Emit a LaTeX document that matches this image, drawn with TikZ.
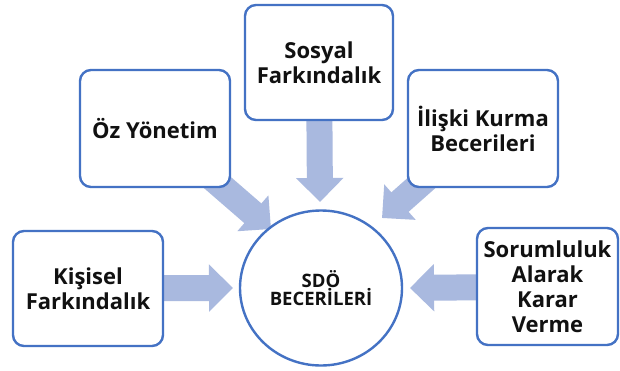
\documentclass[tikz,border=0pt]{standalone}
\usepackage{fontspec}
\setmainfont{Open Sans}
\usetikzlibrary{arrows.meta,shapes.geometric,backgrounds}
\definecolor{boxblue}{HTML}{4472C4}
\definecolor{arrowblue}{HTML}{A9B9DF}
\definecolor{txt}{HTML}{111111}
\begin{document}
\begin{tikzpicture}[x=1pt,y=-1pt,
  skillbox/.style={draw=boxblue, line width=2.4pt, rounded corners=11pt, fill=white,
    align=center, text=txt, font=\bfseries\fontsize{22}{25}\selectfont, inner sep=0pt},
  centre/.style={ellipse, draw=boxblue, line width=2.4pt, fill=white, align=center,
    text=txt, font=\bfseries\fontsize{18.5}{18}\selectfont, minimum width=162pt, minimum height=155pt, inner sep=0pt},
  bigarrow/.style={draw=arrowblue, line width=26pt, -{Triangle[length=24pt,width=46pt]}},
]
\useasboundingbox (0,0) rectangle (620,370);

\node[skillbox, minimum width=150pt, minimum height=115pt] (kis) at (88,288.5) {Kişisel\\Farkındalık};
\node[skillbox, minimum width=150pt, minimum height=117pt] (oz) at (155,128.5) {Öz Yönetim};
\node[skillbox, minimum width=148pt, minimum height=115pt] (sos) at (319,62.5) {Sosyal\\Farkındalık};
\node[skillbox, minimum width=150pt, minimum height=117pt] (ili) at (483,128.5) {İlişki Kurma\\Becerileri};
\node[skillbox, minimum width=141pt, minimum height=117pt] (sor) at (547.5,286.5) {Sorumluluk\\Alarak\\Karar\\Verme};

\node[centre] (sdo) at (321,288) {SDÖ\\BECERİLERİ};

\coordinate (tipK) at (233,288);
\coordinate (tipOz) at (271,229);
\coordinate (tipS) at (320,202);
\coordinate (tipI) at (382,218);
\coordinate (tipR) at (410,288);

\begin{pgfonlayer}{background}
\fill[white] (0,0) rectangle (620,370);
\draw[bigarrow] (kis.center) -- (tipK);
\draw[bigarrow] (oz.center) -- (tipOz);
\draw[bigarrow] (sos.center) -- (tipS);
\draw[bigarrow] (ili.center) -- (tipI);
\draw[bigarrow] (sor.center) -- (tipR);
\end{pgfonlayer}
\end{tikzpicture}
\end{document}
